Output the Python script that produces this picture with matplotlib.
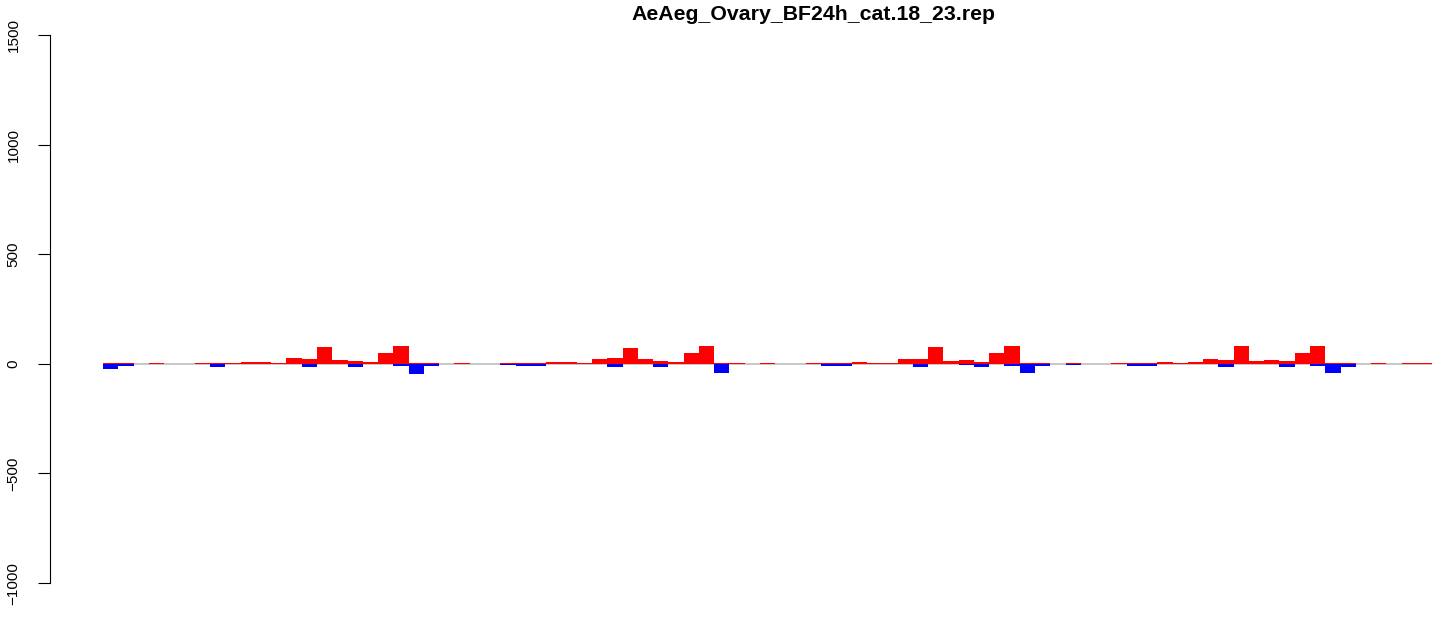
import numpy as np
import matplotlib.pyplot as plt

plt.rcParams['font.family'] = ['Liberation Sans', 'DejaVu Sans']

# bar values (red = positive, blue = negative)
red_vals = [3, 3, 0, 3, 0, 0, 3, 3, 3, 8, 8, 3, 27, 23, 77, 18, 14, 9, 50, 82,
            3, 3, 0, 3, 0, 0, 3, 3, 3, 9, 8, 3, 22, 27, 73, 22, 14, 9, 50, 82,
            3, 3, 0, 3, 0, 0, 3, 3, 3, 8, 4, 4, 22, 22, 77, 14, 18, 9, 50, 82,
            3, 3, 0, 3, 0, 0, 3, 3, 3, 9, 3, 9, 22, 18, 82, 14, 18, 14, 50, 82,
            3, 3, 0, 3, 0, 3, 3]
blue_vals = [-23, -8, -1, -3, -1, -1, -3, -14, -3, -3, -3, -3, -3, -14, -3, -3, -14, -3, -3, -9,
             -46, -9, -1, -3, -1, -1, -4, -9, -9, -3, -3, -1, -3, -14, -3, -1, -14, -1, -3, -3,
             -41, -3, -1, -3, -1, -1, -3, -9, -9, -1, -3, -3, -3, -14, -3, -1, -5, -14, -3, -9,
             -41, -9, -1, -4, -1, -1, -3, -9, -9, -1, -3, -3, -3, -14, -3, -3, -3, -14, -3, -9,
             -41, -14, -1, -3, -1, 0, 0]
title = 'AeAeg_Ovary_BF24h_cat.18_23.rep'
yticks = [-1000, -500, 0, 500, 1000, 1500]

W, H = 1444, 619
fig = plt.figure(figsize=(W / 100, H / 100), dpi=100)
ax = fig.add_axes([50 / W, (H - 605) / H, (W - 50) / W, 592 / H])

x = np.arange(len(red_vals))
ax.hlines(0, 0, len(red_vals), color='#BEBEBE', lw=1.2, zorder=1)
ax.bar(x, red_vals, width=1.0, align='edge', color='#FF0000', linewidth=0, zorder=2)
ax.bar(x, blue_vals, width=1.0, align='edge', color='#0000FF', linewidth=0, zorder=2)

ax.set_xlim(-3.476, 87.77)
ax.set_ylim(-1100, 1600)

for s in ['top', 'right', 'bottom']:
    ax.spines[s].set_visible(False)
ax.spines['left'].set_bounds(-1000, 1500)
ax.spines['left'].set_linewidth(0.8)
ax.set_xticks([])
ax.set_yticks(yticks)
ax.set_yticklabels([str(v).replace('-', '\u2212') for v in yticks],
                   rotation=90, va='center', fontsize=11)
ax.tick_params(axis='y', length=8.6, width=0.8, pad=12.5)
ax.patch.set_alpha(0)

fig.text(813 / W, 1 - 14 / H, title, ha='center', va='center',
         fontsize=15.3, fontweight='bold')

fig.savefig('out.png', dpi=100)
